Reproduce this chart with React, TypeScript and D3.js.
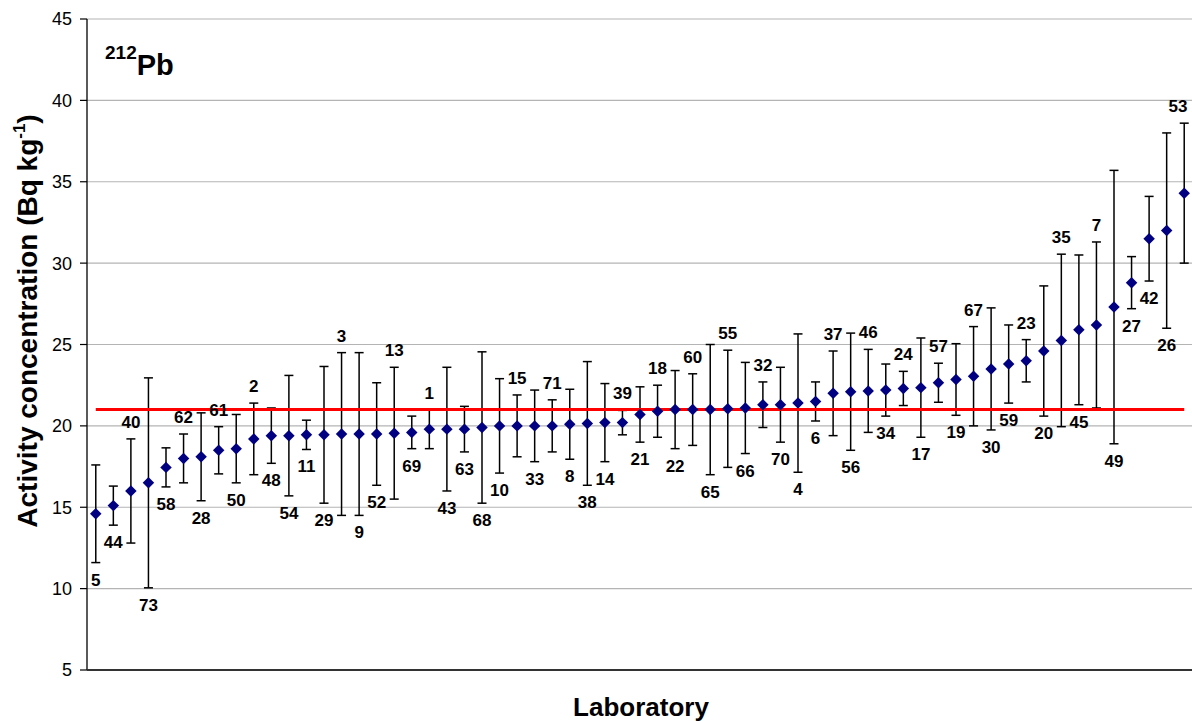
import React from "react";
import * as d3 from "d3";

// Laboratory codes, ordered by reported activity
const labIds: number[] = [
  5, 44, 40, 73, 58, 62, 28, 61, 50, 2, 48, 54, 11, 29, 3, 9, 52, 13, 69, 1, 43,
  63, 68, 10, 15, 33, 71, 8, 38, 14, 39, 21, 18, 22, 60, 65, 55, 66, 32, 70, 4,
  6, 37, 56, 46, 34, 24, 17, 57, 19, 67, 30, 59, 23, 20, 35, 45, 7, 49, 27, 42,
  26, 53,
];

// Reported 212Pb activity concentration (Bq/kg)
const activity: number[] = [
  14.6, 15.1, 16.0, 16.5, 17.45, 18.0, 18.1, 18.5, 18.6, 19.2, 19.4, 19.4, 19.45,
  19.45, 19.5, 19.5, 19.5, 19.55, 19.6, 19.8, 19.8, 19.8, 19.9, 20.0, 20.0, 20.0,
  20.0, 20.1, 20.15, 20.2, 20.2, 20.7, 20.9, 21.0, 21.0, 21.0, 21.05, 21.1, 21.3,
  21.3, 21.4, 21.5, 22.0, 22.1, 22.15, 22.2, 22.3, 22.35, 22.65, 22.85, 23.05,
  23.5, 23.8, 24.0, 24.6, 25.25, 25.9, 26.2, 27.3, 28.8, 31.5, 32.0, 34.3,
];

// Reported uncertainty (Bq/kg)
const uncertainty: number[] = [
  3.0, 1.2, 3.2, 6.45, 1.2, 1.5, 2.7, 1.45, 2.1, 2.2, 1.7, 3.7, 0.9, 4.2, 5.0,
  5.0, 3.15, 4.05, 1.0, 1.2, 3.8, 1.4, 4.65, 2.9, 1.9, 2.2, 1.6, 2.15, 3.8, 2.4,
  0.75, 1.7, 1.6, 2.4, 2.2, 4.0, 3.6, 2.8, 1.4, 2.3, 4.25, 1.2, 2.6, 3.6, 2.55,
  1.6, 1.05, 3.05, 1.2, 2.2, 3.05, 3.75, 2.4, 1.3, 4.0, 5.3, 4.6, 5.1, 8.4, 1.6,
  2.6, 6.0, 4.3,
];

// Where each laboratory code is written: 1 = above the error bar, 0 = below
const labelAbove: number[] = [
  0, 0, 1, 0, 0, 1, 0, 1, 0, 1, 0, 0, 0, 0, 1, 0, 0, 1, 0, 1, 0, 0, 0, 0, 1, 0,
  1, 0, 0, 0, 1, 0, 1, 0, 1, 0, 1, 0, 1, 0, 0, 0, 1, 0, 1, 0, 1, 0, 1, 0, 1, 0,
  0, 1, 0, 1, 0, 1, 0, 0, 0, 0, 1,
];

// Reference value
const referenceValue = 21.0;

const yTicks: number[] = [5, 10, 15, 20, 25, 30, 35, 40, 45];

const W = 1192;
const H = 721;
const left = 87;
const right = 1193;
const top = 19;
const bottom = 670;
const font = "Arial, 'Liberation Sans', Helvetica, sans-serif";

export default function App() {
  const x = d3
    .scalePoint<string>()
    .domain(labIds.map(String))
    .range([left, right])
    .padding(0.5);
  const y = d3.scaleLinear().domain([5, 45]).range([bottom, top]);

  const refLine = d3
    .line<number>()
    .x((d) => x(String(d)) as number)
    .y(() => y(referenceValue));

  // square turned 45 degrees gives the marker diamond
  const diamond = d3.symbol(d3.symbolSquare, 66)();

  return (
    <svg
      width={W}
      height={H}
      style={{ position: "absolute", left: 0, top: 0, background: "#fff" }}
      fontFamily={font}
    >
      {/* horizontal gridlines */}
      {yTicks.map((t) => (
        <line
          key={"g" + t}
          x1={left}
          x2={W}
          y1={y(t)}
          y2={y(t)}
          stroke="#b4b4b4"
          strokeWidth={1.2}
        />
      ))}

      {/* y axis with ticks */}
      <line x1={left} x2={left} y1={top} y2={bottom} stroke="#000" strokeWidth={1.3} />
      {yTicks.map((t) => (
        <g key={"t" + t}>
          <line x1={left - 7} x2={left} y1={y(t)} y2={y(t)} stroke="#000" strokeWidth={1.2} />
          <text
            x={72}
            y={y(t)}
            dy="0.36em"
            textAnchor="end"
            fontSize={18}
            fill="#000"
          >
            {t}
          </text>
        </g>
      ))}

      {/* x axis */}
      <line x1={left} x2={W} y1={bottom} y2={bottom} stroke="#333" strokeWidth={2} />

      {/* error bars */}
      {labIds.map((id, i) => {
        const cx = x(String(id)) as number;
        const hi = y(activity[i] + uncertainty[i]);
        const lo = y(activity[i] - uncertainty[i]);
        return (
          <g key={"e" + id} stroke="#000" strokeWidth={1.5}>
            <line x1={cx} x2={cx} y1={hi} y2={lo} />
            <line x1={cx - 4.5} x2={cx + 4.5} y1={hi} y2={hi} />
            <line x1={cx - 4.5} x2={cx + 4.5} y1={lo} y2={lo} />
          </g>
        );
      })}

      {/* reference value line */}
      <path d={refLine(labIds) ?? ""} fill="none" stroke="#ff0000" strokeWidth={3} />

      {/* reported values */}
      {labIds.map((id, i) => (
        <path
          key={"m" + id}
          d={diamond ?? ""}
          transform={`translate(${x(String(id))},${y(activity[i])}) rotate(45)`}
          fill="#000080"
        />
      ))}

      {/* laboratory codes, kept inside the right edge */}
      {labIds.map((id, i) => {
        const cx = Math.min(x(String(id)) as number, W - 14);
        const ty = labelAbove[i]
          ? y(activity[i] + uncertainty[i]) - 11
          : y(activity[i] - uncertainty[i]) + 23;
        return (
          <text
            key={"l" + id}
            x={cx}
            y={ty}
            textAnchor="middle"
            fontSize={17}
            fontWeight="bold"
            fill="#000"
          >
            {id}
          </text>
        );
      })}

      {/* nuclide tag */}
      <text x={105} y={75} fontWeight="bold" fill="#000">
        <tspan fontSize={19} dy={-16}>212</tspan>
        <tspan fontSize={29} dy={16}>Pb</tspan>
      </text>

      {/* axis titles */}
      <text
        transform={`translate(37,${321}) rotate(-90)`}
        textAnchor="middle"
        fontSize={28}
        fontWeight="bold"
        fill="#000"
      >
        Activity concentration (Bq kg
        <tspan fontSize={17} dy={-12}>-1</tspan>
        <tspan dy={12}>)</tspan>
      </text>
      <text
        x={641}
        y={716}
        textAnchor="middle"
        fontSize={26}
        fontWeight="bold"
        fill="#000"
      >
        Laboratory
      </text>
    </svg>
  );
}
